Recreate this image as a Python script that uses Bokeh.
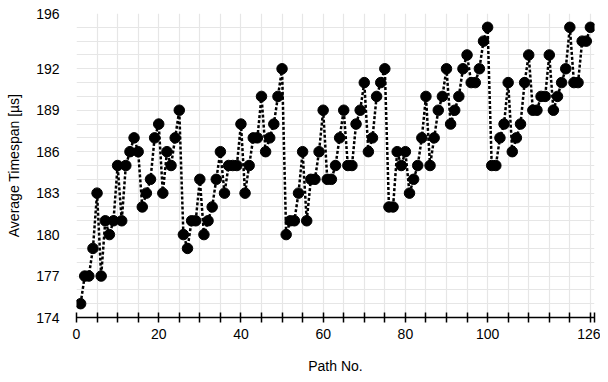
from bokeh.plotting import figure
from bokeh.models import Range1d, FixedTicker
from bokeh.embed import file_html
from bokeh.resources import INLINE

# ---- data ----
path_no = list(range(1, 126))
timespan = [
    175, 177, 177, 179, 183, 177, 181, 180, 181, 185,
    181, 185, 186, 187, 186, 182, 183, 184, 187, 188,
    183, 186, 185, 187, 189, 180, 179, 181, 181, 184,
    180, 181, 182, 184, 186, 183, 185, 185, 185, 188,
    183, 185, 187, 187, 190, 186, 187, 188, 190, 192,
    180, 181, 181, 183, 186, 181, 184, 184, 186, 189,
    184, 184, 185, 187, 189, 185, 185, 188, 189, 191,
    186, 187, 190, 191, 192, 182, 182, 186, 185, 186,
    183, 184, 185, 187, 190, 185, 187, 189, 190, 192,
    188, 189, 190, 192, 193, 191, 191, 192, 194, 195,
    185, 185, 187, 188, 191, 186, 187, 188, 191, 193,
    189, 189, 190, 190, 193, 189, 190, 191, 192, 195,
    191, 191, 194, 194, 195,
]
x_ticks = list(range(0, 126, 5)) + [126]
x_labels = [0, 20, 40, 60, 80, 100, 126]
y_ticks = [174, 177, 180, 183, 186, 189, 192, 196]
x_grid = list(range(0, 126, 5))
y_grid = list(range(174, 197))

FONT = "Liberation Sans"

p = figure(width=600, height=376, output_backend="svg", toolbar_location=None,
           x_range=Range1d(0, 126), y_range=Range1d(174, 196),
           min_border_left=76, min_border_right=6, min_border_top=13, min_border_bottom=56)
p.outline_line_color = None
p.background_fill_color = "white"
p.border_fill_color = "white"

p.line(path_no, timespan, line_color="black", line_width=2.5, line_dash="3 2")
p.scatter(path_no, timespan, size=10.5, fill_color="black", line_color="black")

# x axis
xa = p.xaxis[0]
xa.ticker = FixedTicker(ticks=x_ticks)
xa.major_label_overrides = {t: (str(t) if t in x_labels else "") for t in x_ticks}
xa.major_tick_in = 5
xa.major_tick_out = 5
xa.minor_tick_line_color = None
xa.axis_line_color = "black"
xa.axis_line_width = 1.5
xa.major_tick_line_width = 1.5
xa.major_label_text_font = FONT
xa.major_label_text_font_size = "14px"
xa.major_label_text_color = "black"
xa.major_label_standoff = 6
xa.axis_label = "Path No."
xa.axis_label_text_font = FONT
xa.axis_label_text_font_size = "14px"
xa.axis_label_text_font_style = "normal"
xa.axis_label_text_color = "black"
xa.axis_label_standoff = 16

# y axis
ya = p.yaxis[0]
ya.ticker = FixedTicker(ticks=y_ticks)
ya.major_tick_line_color = None
ya.minor_tick_line_color = None
ya.axis_line_color = None
ya.major_label_text_font = FONT
ya.major_label_text_font_size = "14px"
ya.major_label_text_color = "black"
ya.major_label_standoff = 11
ya.axis_label = "Average Timespan [µs]"
ya.axis_label_text_font = FONT
ya.axis_label_text_font_size = "14px"
ya.axis_label_text_font_style = "normal"
ya.axis_label_text_color = "black"
ya.axis_label_standoff = 11

# grids
p.xgrid.ticker = FixedTicker(ticks=x_grid)
p.ygrid.ticker = FixedTicker(ticks=y_grid)
p.xgrid.grid_line_color = "#e6e6e6"
p.ygrid.grid_line_color = "#e6e6e6"
p.xgrid.grid_line_width = 1.2
p.ygrid.grid_line_width = 1.2

open("out.html", "w").write(file_html(p, INLINE))
